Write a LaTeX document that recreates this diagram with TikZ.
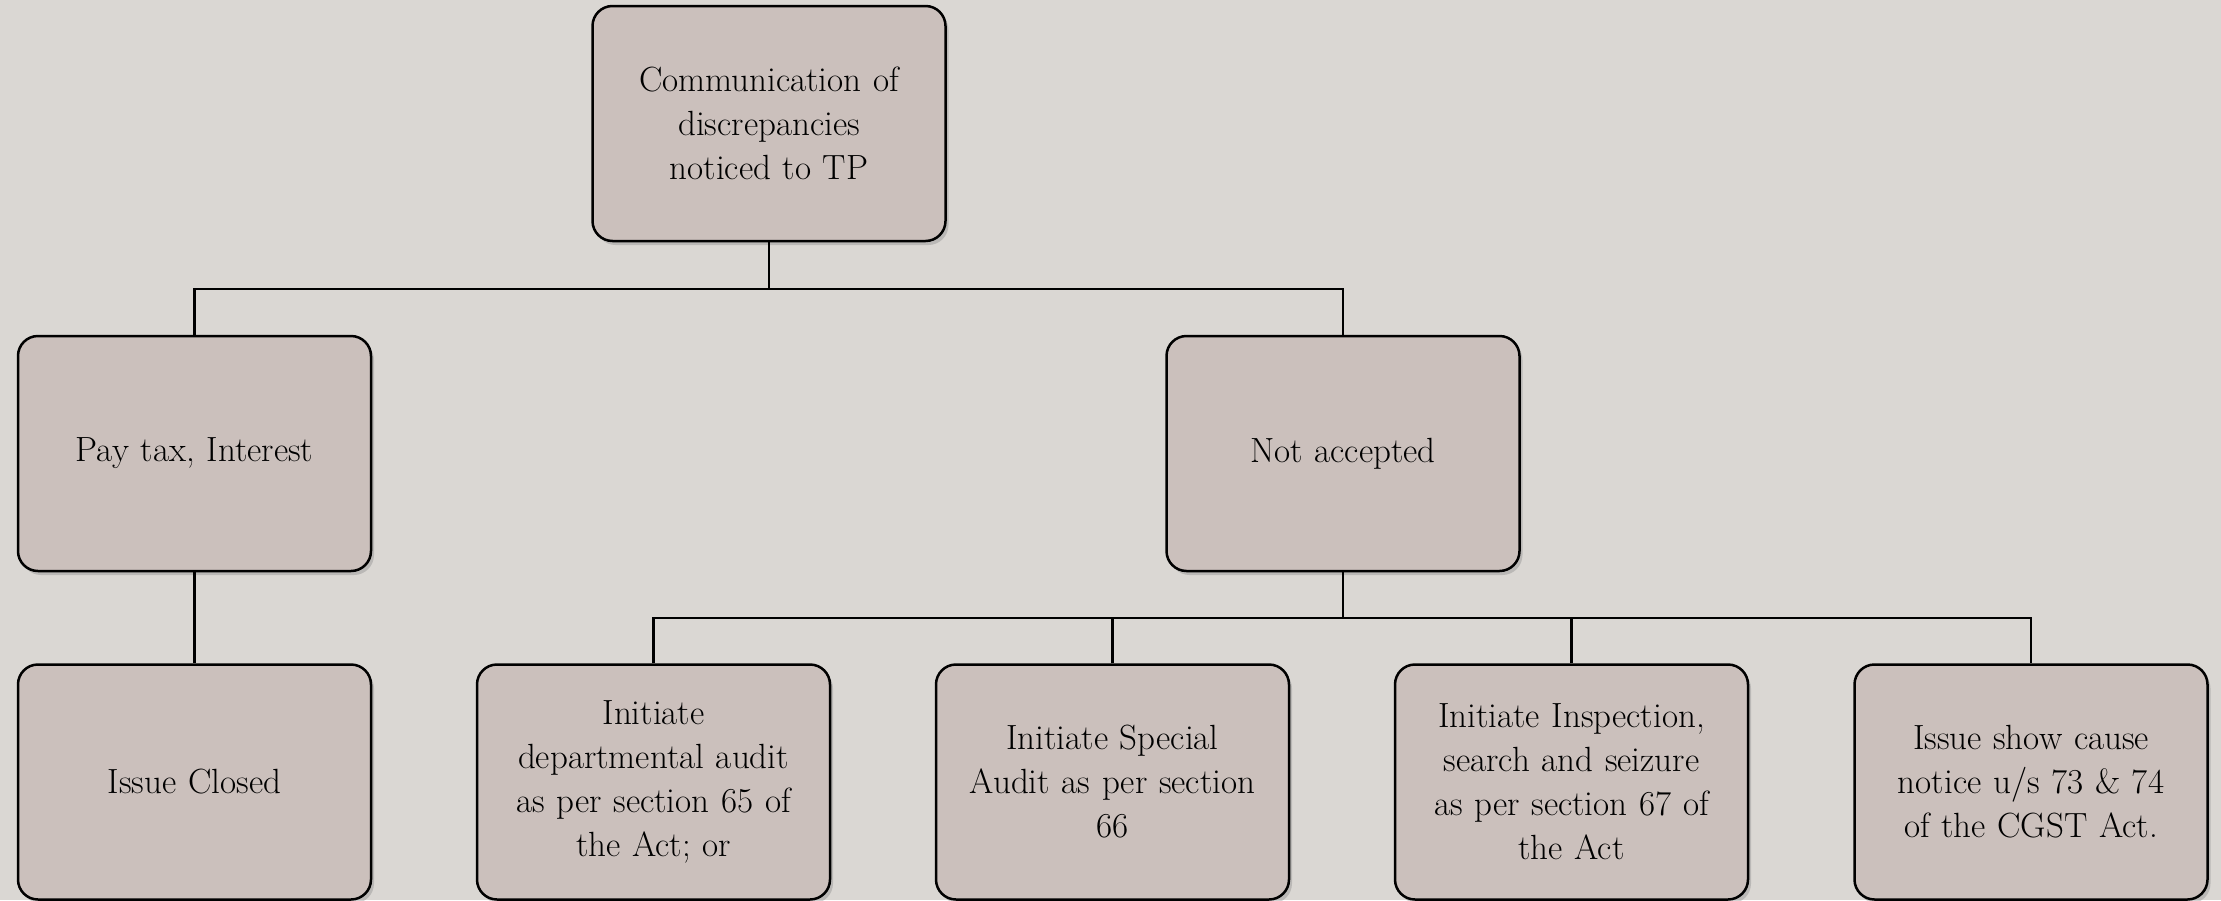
\documentclass[tikz,border=0pt]{standalone}
\usetikzlibrary{shadows}
\definecolor{bgcol}{RGB}{218,215,211}
\definecolor{boxcol}{RGB}{203,192,188}
\tikzset{
  x=1pt,y=-1pt,
  box/.style={draw=black, line width=2.5pt, fill=boxcol, rounded corners=20pt,
    minimum width=353pt, minimum height=235pt, text width=330pt, align=center,
    inner sep=0pt, font=\fontsize{35}{44}\selectfont,
    drop shadow={opacity=0.35, shadow xshift=3pt, shadow yshift=-4pt}},
  conn/.style={draw=black, line width=2.5pt}
}
\begin{document}
\begin{tikzpicture}
\fill[bgcol] (0,0) rectangle (2221,900);
\useasboundingbox (0,0) rectangle (2221,900);
\node[box] (top) at (769,123.5) {Communication of\\ discrepancies\\ noticed to TP};
\node[box] (pay) at (194.5,453.5) {Pay tax, Interest};
\node[box] (na) at (1343,453.5) {Not accepted};
\node[box] (closed) at (194.5,782) {Issue Closed};
\node[box] (audit) at (653.5,782) {Initiate\\ departmental audit\\ as per section 65 of\\ the Act; or};
\node[box] (special) at (1112.5,782) {Initiate Special\\ Audit as per section\\ 66};
\node[box] (insp) at (1571.5,782) {Initiate Inspection,\\ search and seizure\\ as per section 67 of\\ the Act};
\node[box] (scn) at (2031,782) {Issue show cause\\ notice u/s 73 \& 74\\ of the CGST Act.};
\coordinate (j1) at (769,289);
\coordinate (j2) at (1343,618);
\draw[conn] (top.south) -- (j1);
\draw[conn] (pay.north) |- (j1) -| (na.north);
\draw[conn] (pay.south) -- (closed.north);
\draw[conn] (na.south) -- (j2);
\draw[conn] (audit.north) |- (j2) -| (scn.north);
\draw[conn] (special.north) -- (special.north |- j2);
\draw[conn] (insp.north) -- (insp.north |- j2);
\end{tikzpicture}
\end{document}
